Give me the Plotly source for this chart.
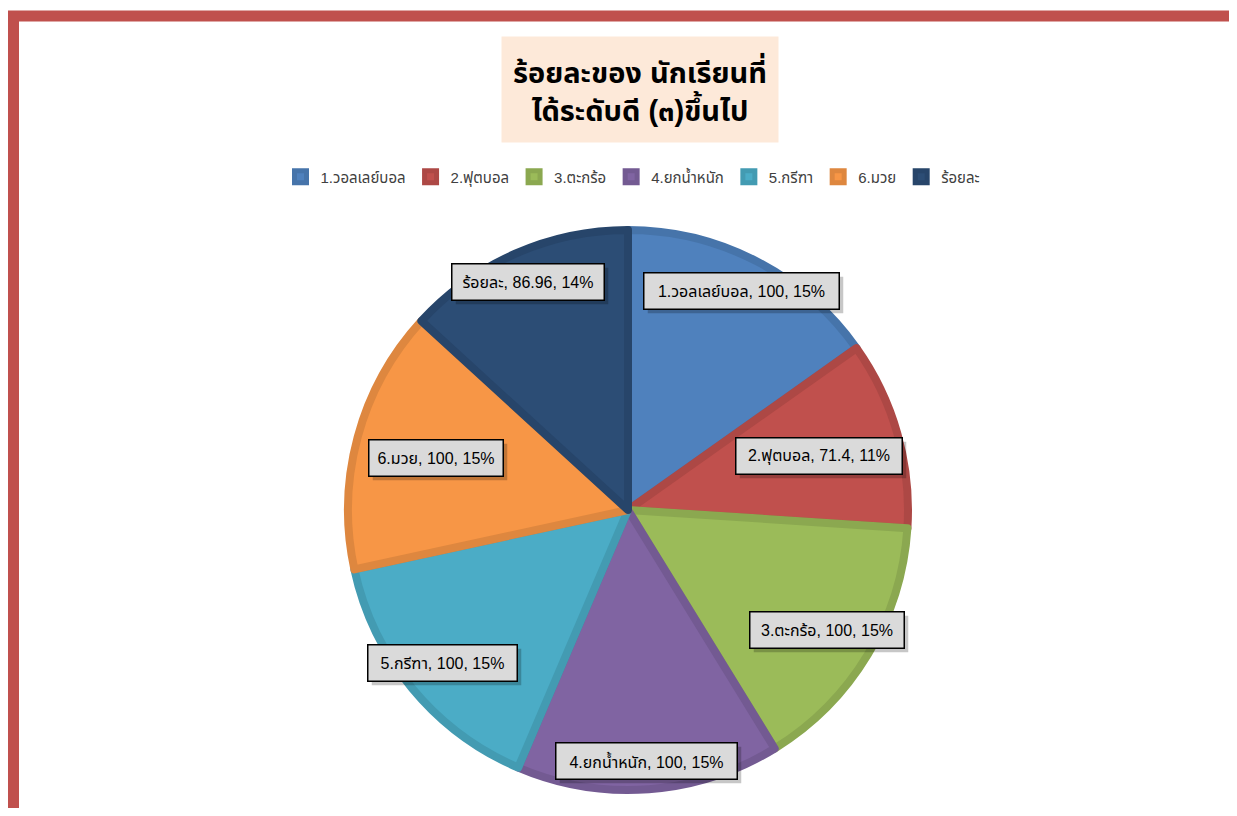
import math
import plotly.graph_objects as go

# ---- data ----
categories = ["1.วอลเลย์บอล", "2.ฟุตบอล", "3.ตะกร้อ", "4.ยกน้ำหนัก", "5.กรีฑา", "6.มวย", "ร้อยละ"]
values = [100, 71.4, 100, 100, 100, 100, 86.96]
value_labels = ["100", "71.4", "100", "100", "100", "100", "86.96"]
percent_labels = ["15%", "11%", "15%", "15%", "15%", "15%", "14%"]
title_text = "ร้อยละของ นักเรียนที่<br>ได้ระดับดี (๓)ขึ้นไป"

# ---- style ----
fills = ["#4F81BD", "#C0504D", "#9BBB59", "#8064A2", "#4BACC6", "#F79646", "#2C4D75"]
edges = ["#4674AA", "#AD4845", "#8BA850", "#735A92", "#439BB2", "#DE873F", "#27456A"]
label_radius = [0.88, 0.71, 0.83, 0.90, 0.86, 0.71, 0.89]
label_box_w = [197, 168, 156, 183, 151, 136, 154]   # outer box widths (px)
LABEL_BOX_H = 38
PAD, BW = 6, 1.5
FONT = "'Liberation Sans', Arial, 'Noto Sans Thai', sans-serif"

W, H = 1221, 800
cx, cy, R = 620, 502, 280  # pie centre / radius in figure pixels

def px2paper(x, y):
    return x / W, 1 - y / H

fig = go.Figure()
fig.add_trace(go.Pie(
    labels=categories, values=values, sort=False, direction="clockwise", rotation=0,
    marker=dict(colors=fills, line=dict(color=edges, width=8)),
    textinfo="none", hoverinfo="label+value+percent",
    domain=dict(x=[(cx - R) / W, (cx + R) / W], y=[1 - (cy + R) / H, 1 - (cy - R) / H]),
))

# data labels placed along each slice's mid angle
total = sum(values)
cum = 0.0
annotations = []
for name, v, vl, pl, fr, bw in zip(categories, values, value_labels, percent_labels,
                                   label_radius, label_box_w):
    mid = (cum + v / 2) / total * 2 * math.pi
    cum += v
    x = cx + fr * R * math.sin(mid)
    y = cy - fr * R * math.cos(mid)
    px, py = px2paper(x, y)
    txt = f"{name}, {vl}, {pl}"
    common = dict(x=px, y=py, xref="paper", yref="paper", showarrow=False,
                  xanchor="center", yanchor="middle", borderpad=PAD, borderwidth=BW,
                  width=bw - 2 * PAD - 2 * BW, height=LABEL_BOX_H - 2 * PAD - 2 * BW)
    # soft shadow (empty box)
    annotations.append(dict(**common, text=" ", font=dict(family=FONT, size=16),
                            bgcolor="rgba(0,0,0,0.22)", bordercolor="rgba(0,0,0,0)",
                            xshift=4, yshift=-4))
    annotations.append(dict(**common, text=txt, font=dict(family=FONT, size=16, color="#000000"),
                            bgcolor="#DADADA", bordercolor="#000000"))

# title box
tx, ty = px2paper(632, 81)
annotations.append(dict(x=tx, y=ty, xref="paper", yref="paper", text=f"<b>{title_text}</b>",
                        showarrow=False, xanchor="center", yanchor="middle",
                        font=dict(family=FONT, size=29, color="#000000"),
                        bgcolor="#FDE9D9", width=262, height=91, borderpad=7, align="center"))

fig.update_layout(
    width=W, height=H,
    margin=dict(l=0, r=0, t=0, b=0),
    paper_bgcolor="white", plot_bgcolor="white",
    showlegend=True,
    legend=dict(orientation="h", x=625 / W, xanchor="center", y=1 - 169 / H, yanchor="middle",
                font=dict(family=FONT, size=15, color="#404040"), itemclick=False,
                traceorder="normal"),
    annotations=annotations,
    shapes=[dict(type="rect", xref="paper", yref="paper",
                 x0=5.5 / W, x1=1.2, y0=-0.2, y1=1 - 8 / H,
                 line=dict(color="#C0504D", width=11), fillcolor="rgba(0,0,0,0)", layer="above")],
)

fig.write_html("out.html")
